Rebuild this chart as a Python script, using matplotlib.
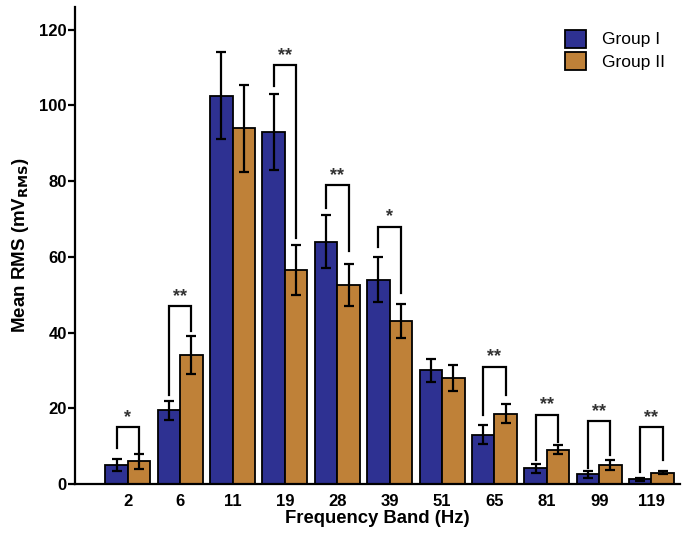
import numpy as np
import matplotlib
matplotlib.use("Agg")
import matplotlib.pyplot as plt

plt.rcParams["font.family"] = ["Liberation Sans", "DejaVu Sans"]

bands = ["2", "6", "11", "19", "28", "39", "51", "65", "81", "99", "119"]
g1_mean = [5.0, 19.5, 102.5, 93.0, 64.0, 54.0, 30.0, 13.0, 4.2, 2.5, 1.2]
g1_err = [1.5, 2.5, 11.5, 10.0, 7.0, 6.0, 3.0, 2.5, 1.2, 0.8, 0.5]
g2_mean = [6.0, 34.0, 94.0, 56.5, 52.5, 43.0, 28.0, 18.5, 9.0, 5.0, 3.0]
g2_err = [2.0, 5.0, 11.5, 6.5, 5.5, 4.5, 3.5, 2.5, 1.2, 1.2, 0.5]

# significance brackets: band index, top, left leg end, right leg end, label
sig_idx = [0, 1, 3, 4, 5, 7, 8, 9, 10]
sig_top = [15.0, 47.0, 110.7, 79.0, 68.0, 31.0, 18.3, 16.7, 15.1]
sig_left = [9.5, 23.6, 105.0, 73.0, 62.6, 18.3, 6.4, 4.2, 3.2]
sig_right = [8.5, 40.5, 65.0, 61.5, 50.5, 23.6, 11.0, 7.7, 6.4]
sig_lab = ["*", "**", "**", "**", "*", "**", "**", "**", "**"]

blue = "#2e3192"
orange = "#bf8138"

fig = plt.figure(figsize=(6.91, 5.33), dpi=100)
ax = fig.add_axes([0.1085, 0.092, 0.876, 0.895])

x = np.arange(len(bands))
w = 0.43
ekw = dict(ecolor="black", elinewidth=1.6, capsize=3.5, capthick=1.6)
ax.bar(x - w / 2, g1_mean, w, yerr=g1_err, color=blue, edgecolor="black",
       linewidth=1.3, error_kw=ekw, label="Group I", zorder=2)
ax.bar(x + w / 2, g2_mean, w, yerr=g2_err, color=orange, edgecolor="black",
       linewidth=1.3, error_kw=ekw, label="Group II", zorder=2)

for i, top, yl, yr, lab in zip(sig_idx, sig_top, sig_left, sig_right, sig_lab):
    xl, xr = i - w / 2, i + w / 2
    ax.plot([xl, xl, xr, xr], [yl, top, top, yr], color="black", lw=1.6,
            solid_joinstyle="miter", zorder=3)
    ax.text(i, top + 0.3, lab, ha="center", va="bottom", fontsize=13,
            fontweight="bold", color="#333")

ax.set_xlim(-1.01, 10.55)
ax.set_ylim(0, 126)
ax.set_yticks(range(0, 121, 20))
ax.set_xticks(x)
ax.set_xticklabels(bands)
for s in ["top", "right"]:
    ax.spines[s].set_visible(False)
for s in ["left", "bottom"]:
    ax.spines[s].set_linewidth(1.6)
ax.tick_params(axis="y", length=5, width=1.6, labelsize=12, pad=1)
ax.tick_params(axis="x", length=0, labelsize=12, pad=7)
for t in ax.get_xticklabels() + ax.get_yticklabels():
    t.set_fontweight("bold")
ax.set_xlabel("Frequency Band (Hz)", fontsize=13.3, fontweight="bold", labelpad=1)
ax.set_ylabel(r"Mean RMS (mV$_{\mathbf{RMS}}$)", fontsize=13.5, fontweight="bold",
              labelpad=6)

ax.legend(loc="upper right", bbox_to_anchor=(1.0, 0.985), frameon=False,
          fontsize=12.5, handlelength=1.2, handleheight=1.2, labelspacing=0.25,
          handletextpad=0.9)

fig.savefig("out.png", dpi=100)
